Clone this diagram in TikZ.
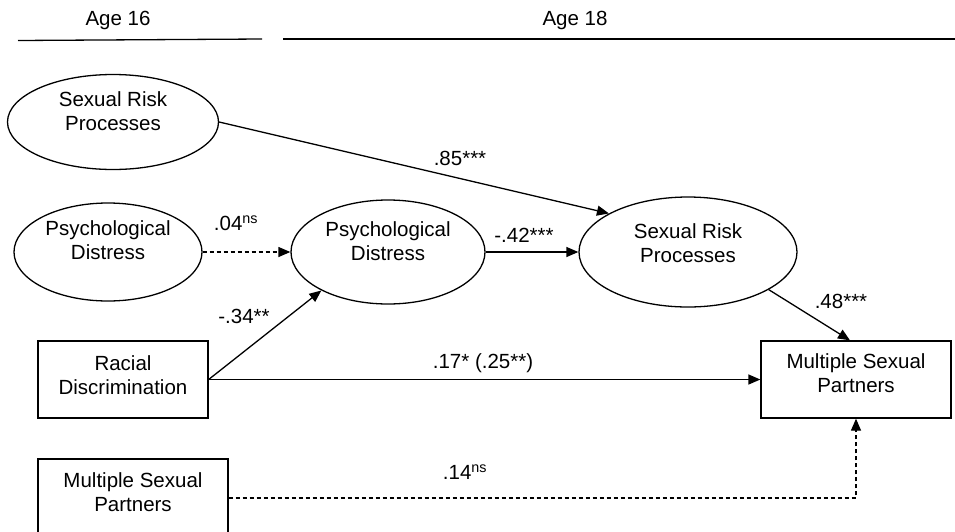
\documentclass[tikz,border=0pt]{standalone}
\usepackage{fontspec}
\setmainfont{Liberation Sans}
\usetikzlibrary{arrows.meta,shapes.geometric,calc}
\begin{document}
\begin{tikzpicture}[x=1pt,y=-1pt,
  every node/.style={font=\fontsize{20.5}{24}\selectfont},
  ell/.style={draw, ellipse, inner sep=0pt, line width=1.3pt},
  box/.style={draw, rectangle, inner sep=0pt, line width=1.3pt},
  txt/.style={align=center, inner sep=0pt},
  lab/.style={inner sep=0pt},
  rule/.style={line width=1.3pt},
  conn/.style={line width=1.3pt, -{Triangle[length=12pt,width=10pt]}},
  dconn/.style={conn, dash pattern=on 4pt off 3pt},
]
\useasboundingbox (0,0) rectangle (955,531);
\clip (0,0) rectangle (955,531);

% headers
\node[lab] (h16) at (118,20) {Age 16};
\node[lab] (h18) at (575,20) {Age 18};
\draw[rule] (18,40.5) -- (262,39);
\draw[rule] (283,39) -- (955,39);

% age 16 ellipses
\node[ell, minimum width=211pt, minimum height=95pt] (e1) at (113,122) {};
\node[txt] (e1t) at (113,111.5) {Sexual Risk\\Processes};
\node[ell, minimum width=188pt, minimum height=98pt] (e2) at (108,252) {};
\node[txt] (e2t) at (108,240) {Psychological\\Distress};

% age 18 ellipses
\node[ell, minimum width=194pt, minimum height=104pt] (pd) at (388,252) {};
\node[txt] (pdt) at (388,241) {Psychological\\Distress};
\node[ell, minimum width=218pt, minimum height=110pt] (srp) at (688,252) {};
\node[txt] (srpt) at (688,243) {Sexual Risk\\Processes};

% boxes
\node[box, minimum width=170pt, minimum height=77pt] (rd) at (123,379.5) {};
\node[txt] (rdt) at (123,375) {Racial\\Discrimination};
\node[box, minimum width=190pt, minimum height=77pt] (msp) at (856,379.5) {};
\node[txt] (mspt) at (856,373.5) {Multiple Sexual\\Partners};
\node[box, minimum width=190pt, minimum height=78pt] (msp16) at (133,498) {};
\node[txt] (msp16t) at (133,492.5) {Multiple Sexual\\Partners};

% connectors
\draw[conn] (e1.east) -- (srp.154);
\draw[dconn] (e2.east) -- (pd.west);
\draw[conn] (pd.east) -- (srp.west);
\draw[conn] (rd.east) -- (pd.210);
\draw[conn] (rd.east) -- (msp.west);
\draw[conn] (srp.-25) -- ([xshift=-6pt]msp.north);
\draw[dconn] (msp16.east) -| (msp.south);

% labels
\node[lab] (l85) at (460,158) {.85***};
\node[lab] (l04) at (236,223) {.04\textsuperscript{ns}};
\node[lab] (l42) at (524,235) {-.42***};
\node[lab] (l34) at (244,316) {-.34**};
\node[lab] (l17) at (483,363) {.17* (.25**)};
\node[lab] (l48) at (841,301) {.48***};
\node[lab] (l14) at (465,472) {.14\textsuperscript{ns}};
\end{tikzpicture}
\end{document}
